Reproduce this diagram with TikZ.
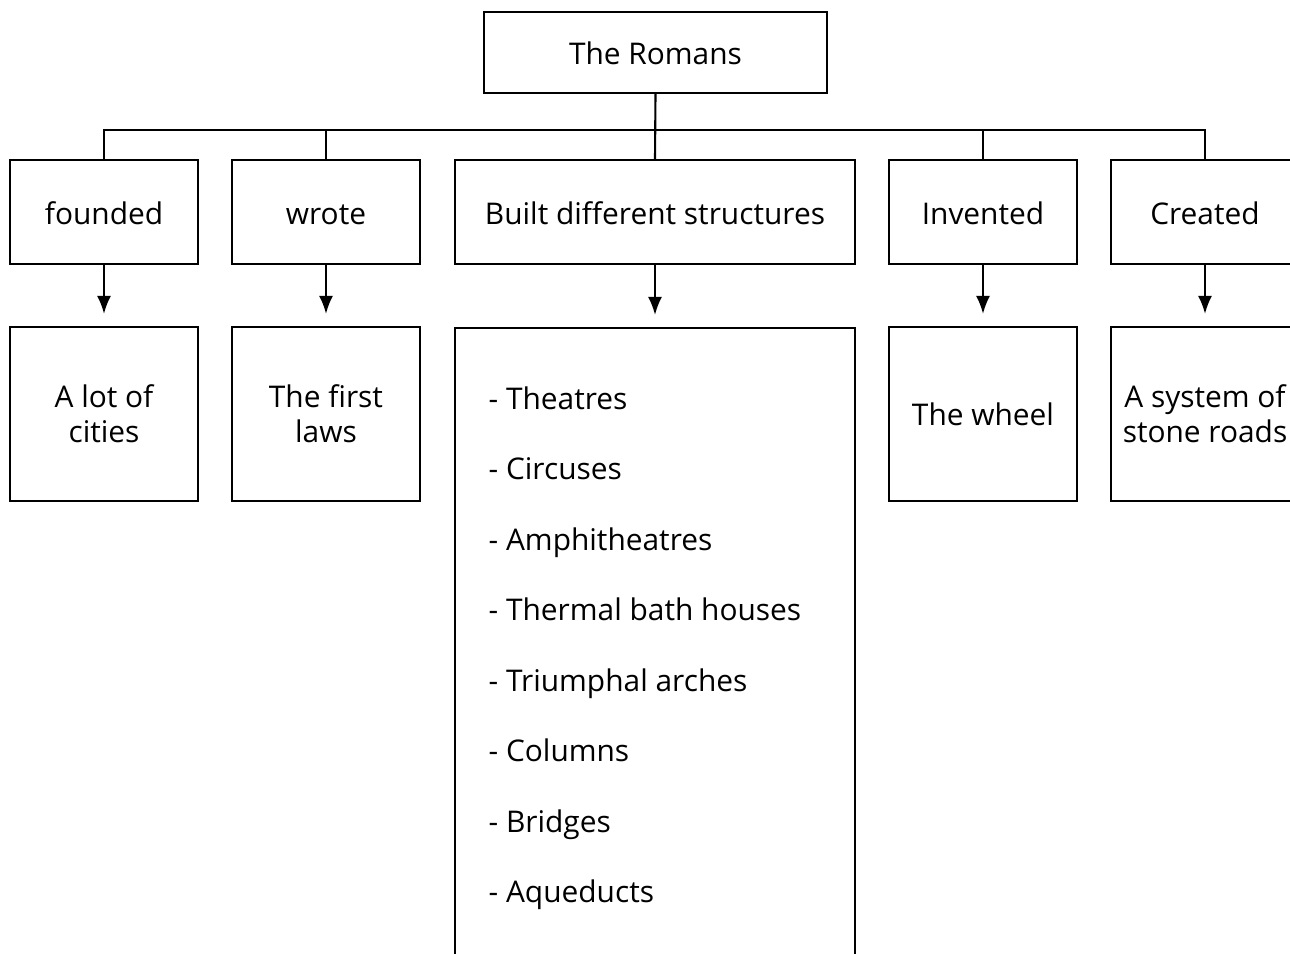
\documentclass[tikz,border=0pt]{standalone}
\usepackage{fontspec}
\setmainfont{Open Sans}
\usetikzlibrary{arrows.meta}

\begin{document}
\begin{tikzpicture}[
    box/.style={draw, line width=0.6pt, minimum width=1.88cm, minimum height=1.04cm,
      inner sep=0pt, align=center, font=\fontsize{8.5}{10}\selectfont},
    oneline/.style={text height=1.6ex, text depth=0.3ex},
    arr/.style={line width=0.6pt, -{Latex[length=1.8mm,width=1.4mm]}, shorten >=0.12cm},
    link/.style={line width=0.6pt}]
    \useasboundingbox (0,0) rectangle (12.9,-9.54);
    \clip (0,0) rectangle (12.9,-9.54);
    % top
    \node[box, oneline, minimum width=3.43cm, minimum height=0.81cm] (romans) at (6.555,-0.525) {The Romans};
    \coordinate (bus) at (0,-1.30);
    % first row
    \node[box, oneline] (founded) at (1.04,-2.12) {founded};
    \node[box, oneline] (wrote) at (3.26,-2.12) {wrote};
    \node[box, oneline, minimum width=4.0cm] (built) at (6.55,-2.12) {Built different structures};
    \node[box, oneline] (invented) at (9.83,-2.12) {Invented};
    \node[box, oneline] (created) at (12.05,-2.12) {Created};
    % second row
    \node[box, minimum height=1.74cm] (cities) at (1.04,-4.14) {A lot of\\cities};
    \node[box, minimum height=1.74cm] (laws) at (3.26,-4.14) {The first\\laws};
    \node[box, minimum width=4.0cm, minimum height=7cm, anchor=north] (structures) at (6.55,-3.27) {};
    \node[box, minimum height=1.74cm] (wheel) at (9.83,-4.14) {The wheel};
    \node[box, minimum height=1.74cm] (roads) at (12.05,-4.14) {A system of\\stone roads};
    \foreach \entry [count=\i] in {Theatres, Circuses, Amphitheatres, Thermal bath houses,
      Triumphal arches, Columns, Bridges, Aqueducts}
      \node[anchor=mid west, inner sep=0pt, font=\fontsize{8.5}{10}\selectfont] (entry\i) at (4.88,{-4.0-0.705*(\i-1)}) {- \entry};
    % connectors
    \draw[link] (romans.south) -- (built.north);
    \draw[link] (founded.north) -- (founded.north |- bus) -| (created.north);
    \draw[link] (wrote.north) -- (wrote.north |- bus);
    \draw[link] (invented.north) -- (invented.north |- bus);
    \draw[arr] (founded) -- (cities);
    \draw[arr] (wrote) -- (laws);
    \draw[arr] (built) -- (structures);
    \draw[arr] (invented) -- (wheel);
    \draw[arr] (created) -- (roads);
\end{tikzpicture}
\end{document}
